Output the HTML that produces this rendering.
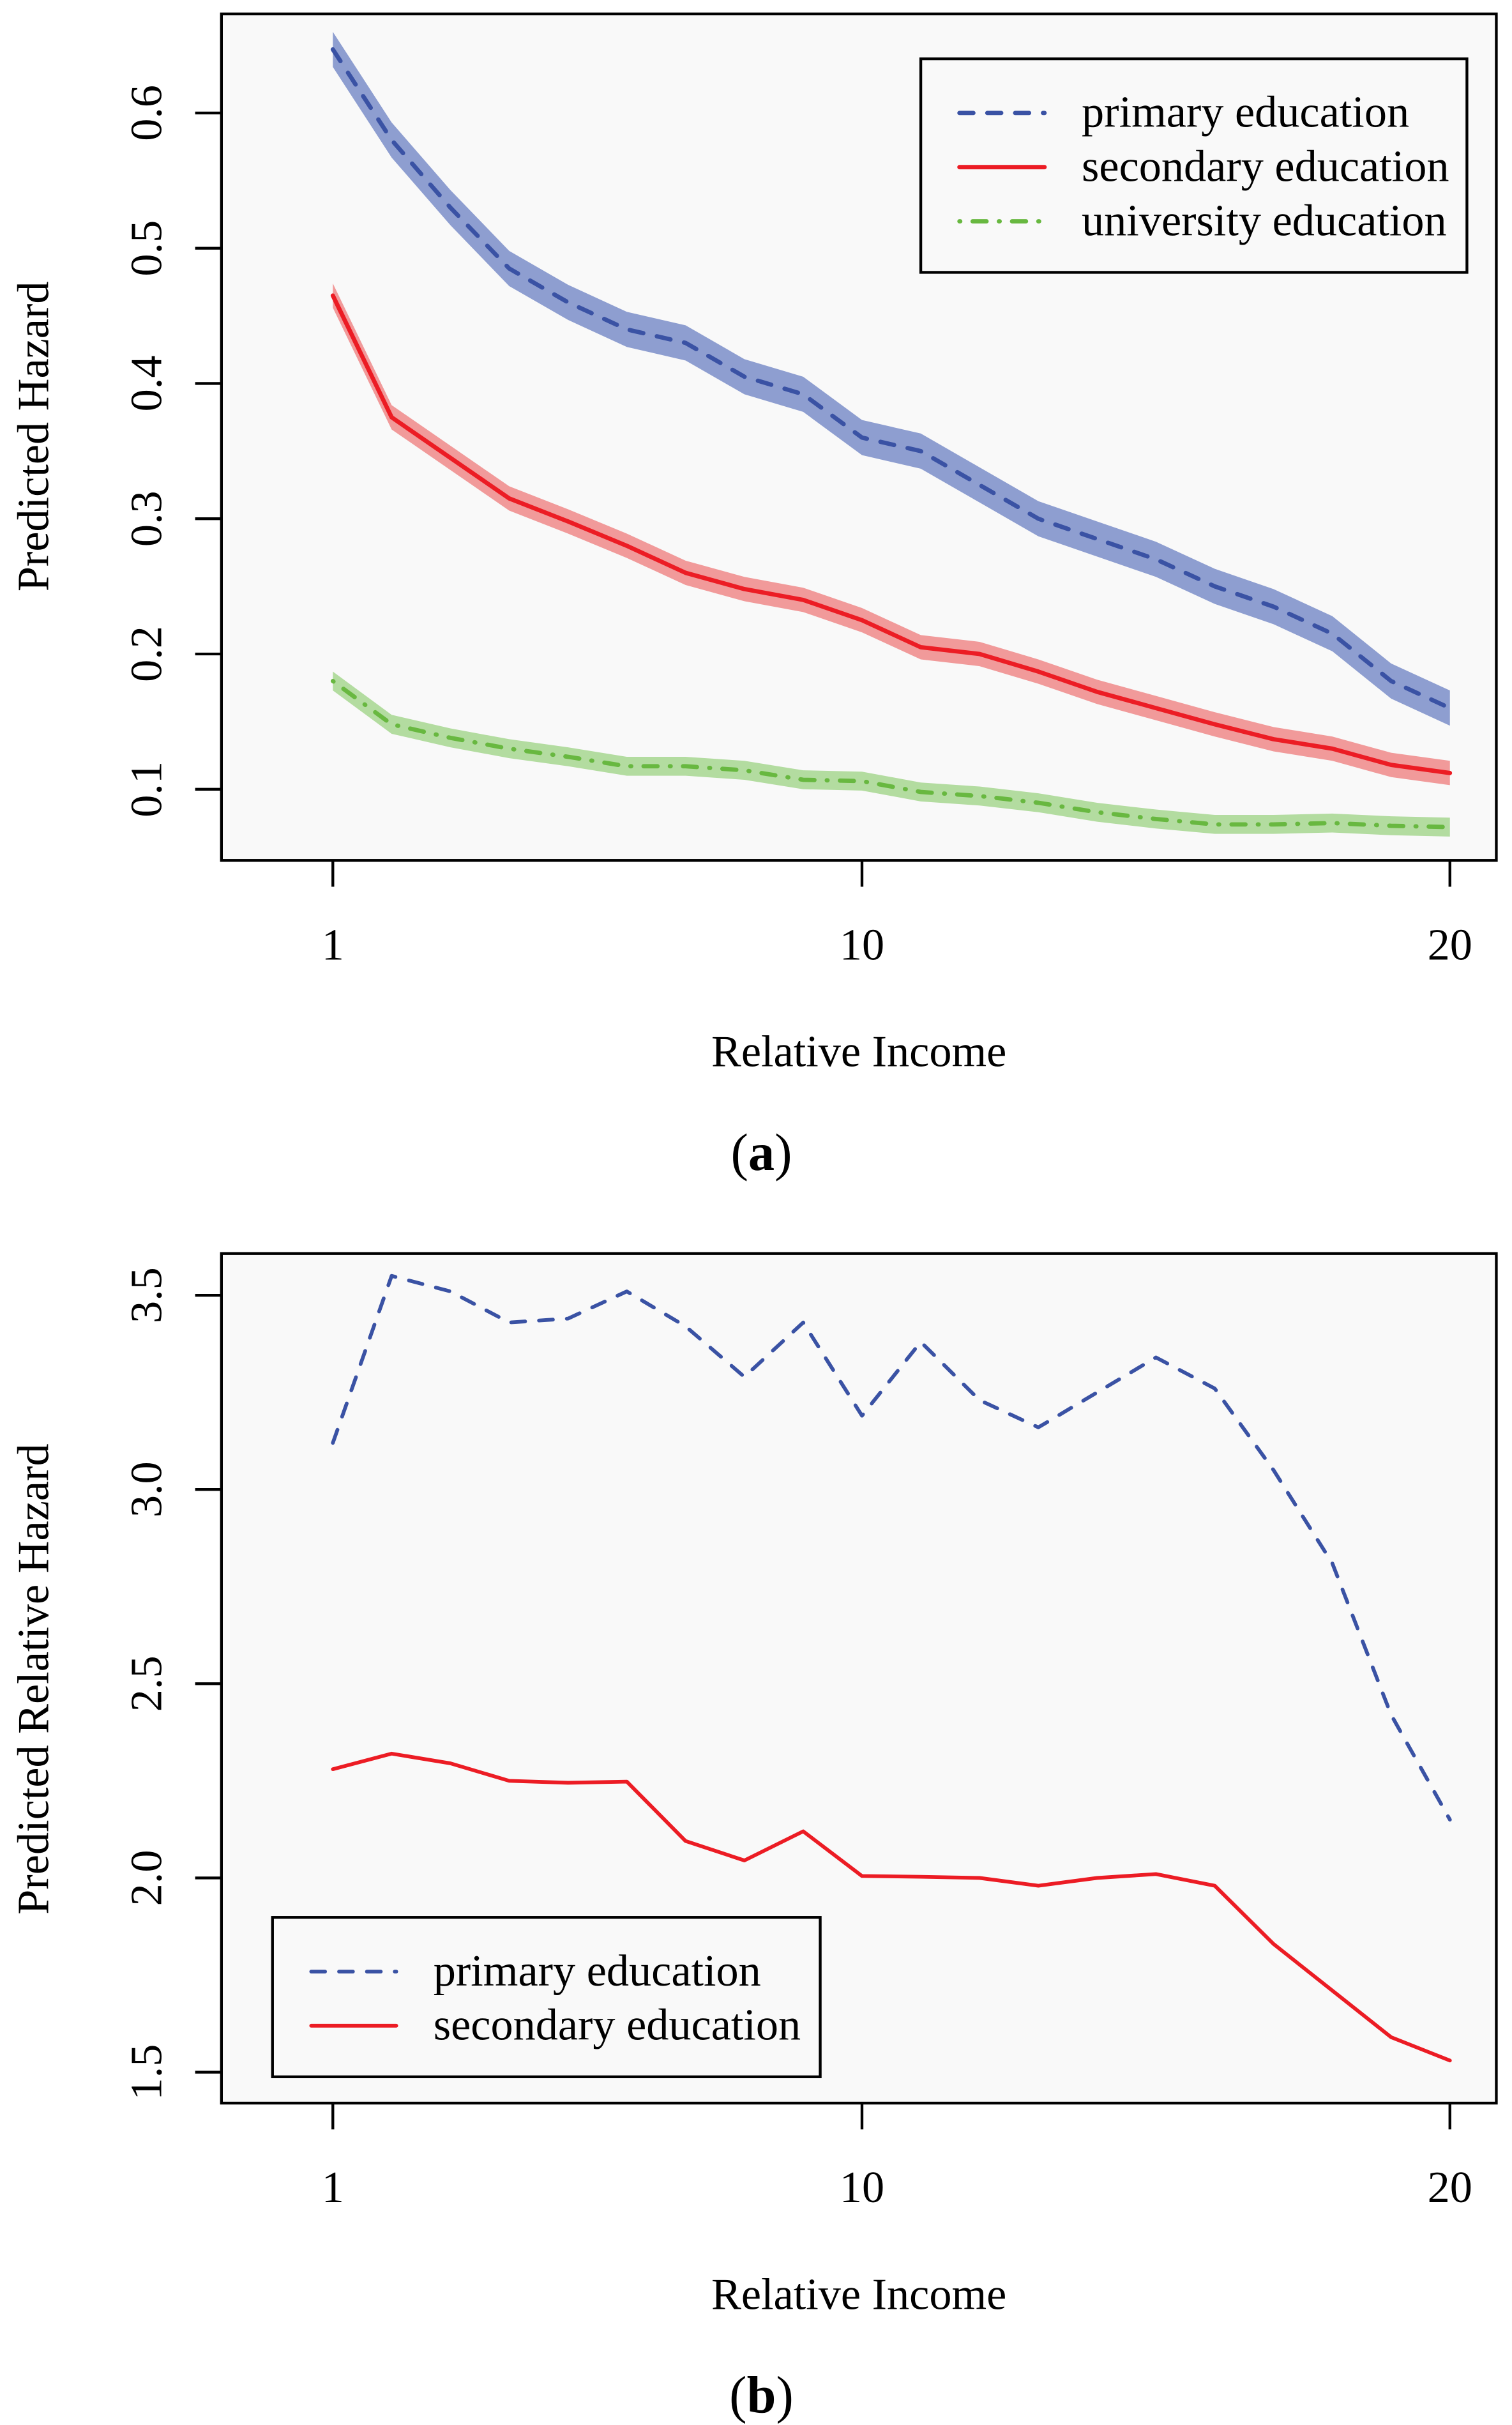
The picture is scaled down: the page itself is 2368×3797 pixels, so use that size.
<!DOCTYPE html>
<html><head><meta charset="utf-8"><style>
html,body{margin:0;padding:0;background:#fff;}
svg{display:block;font-family:"Liberation Serif","DejaVu Serif",serif;}
</style></head><body>
<svg id="fig" width="2368" height="3797" viewBox="0 0 977 1567" xmlns="http://www.w3.org/2000/svg"></svg>
<script>
const xCats=[1,2,3,4,5,6,7,8,9,10,11,12,13,14,15,16,17,18,19,20];
const xTickLabels=[1,10,20];
const aPrimary=[0.647,0.58,0.53,0.485,0.46,0.44,0.43,0.405,0.392,0.36,0.35,0.325,0.30,0.285,0.27,0.25,0.235,0.215,0.18,0.16];
const aSecondary=[0.465,0.375,0.345,0.315,0.298,0.28,0.26,0.248,0.24,0.225,0.205,0.2,0.187,0.172,0.16,0.148,0.137,0.13,0.118,0.112];
const aUniversity=[0.18,0.148,0.138,0.13,0.124,0.117,0.117,0.114,0.107,0.106,0.098,0.095,0.09,0.083,0.078,0.074,0.074,0.075,0.073,0.072];
const aBandPrimary=0.013, aBandSecondary=0.009, aBandUniversity=0.007;
const aYTicks=[0.1,0.2,0.3,0.4,0.5,0.6];
const bPrimary=[3.12,3.55,3.51,3.43,3.44,3.51,3.42,3.29,3.43,3.19,3.38,3.23,3.16,3.25,3.34,3.26,3.05,2.81,2.42,2.15];
const bSecondary=[2.28,2.32,2.295,2.25,2.245,2.248,2.095,2.045,2.12,2.005,2.003,2.0,1.98,2.0,2.01,1.98,1.83,1.71,1.59,1.53];
const bYTicks=[1.5,2.0,2.5,3.0,3.5];

const NS="http://www.w3.org/2000/svg";
const svg=document.getElementById('fig');
function mk(tag,attrs,parent){const e=document.createElementNS(NS,tag);for(const k in attrs)e.setAttribute(k,attrs[k]);(parent||svg).appendChild(e);return e;}
const BLUE="#3a52a4",BLUEB="#8e9ed0",RED="#ec1c24",REDB="#f19a9a",GREEN="#68b840",GREENB="#b3dca0";
const xs=v=>215+(v-1)*38;
const FS=29;

function panel(cfg){
  const g=mk('g',{});
  
  
  const r=mk('rect',{x:143,y:cfg.top,width:824,height:cfg.bottom-cfg.top,fill:'#f9f9f9',stroke:'#000','stroke-width':1.8},g);
  
  
  const ys=cfg.ys;
  cfg.series.forEach(s=>{
    if(s.band){
      let up=xCats.map((c,i)=>xs(c)+','+ys(s.vals[i]+s.band));
      let dn=xCats.map((c,i)=>xs(c)+','+ys(s.vals[i]-s.band)).reverse();
      const p=mk('polygon',{points:up.concat(dn).join(' '),fill:s.bandColor},g);
      
      
    }
  });
  cfg.series.forEach(s=>{
    const pl=mk('polyline',{points:xCats.map((c,i)=>xs(c)+','+ys(s.vals[i])).join(' '),fill:'none',stroke:s.color,'stroke-width':s.w,'stroke-dasharray':s.dash,'stroke-linecap':'round','stroke-linejoin':'round'},g);
    
    
  });
  xTickLabels.forEach(v=>{
    mk('line',{x1:xs(v),x2:xs(v),y1:cfg.bottom,y2:cfg.bottom+17,stroke:'#000','stroke-width':1.8},g);
    const t=mk('text',{x:xs(v),y:cfg.bottom+64,'font-size':FS,'text-anchor':'middle'},g);
    t.textContent=v;
    
    
  });
  cfg.yTicks.forEach(v=>{
    mk('line',{x1:126,x2:143,y1:ys(v),y2:ys(v),stroke:'#000','stroke-width':1.8},g);
    const t=mk('text',{x:0,y:0,'font-size':FS,'text-anchor':'middle',transform:'translate(104,'+ys(v)+') rotate(-90)'},g);
    t.textContent=v.toFixed(1);
    
    
  });
  const xt=mk('text',{x:555,y:cfg.bottom+133,'font-size':FS,'text-anchor':'middle'},g);
  xt.textContent='Relative Income';
  
  
  const yt=mk('text',{x:0,y:0,'font-size':FS,'text-anchor':'middle',transform:'translate(31,'+cfg.ymid+') rotate(-90)'},g);
  yt.textContent=cfg.ylabel;
  
  
  const cap=mk('text',{x:492,y:cfg.capY,'font-size':34,'text-anchor':'middle'},g);
  cap.innerHTML='(<tspan font-weight="bold">'+cfg.cap+'</tspan>)';
  
  
  const L=cfg.legend;
  const lg=mk('g',{},g);
  
  
  mk('rect',{x:L.x,y:L.y,width:L.w,height:L.h,fill:'#f9f9f9',stroke:'#000','stroke-width':1.8},lg);
  cfg.series.forEach((s,i)=>{
    const yy=L.first+i*35;
    mk('line',{x1:L.x+25,x2:L.x+80,y1:yy,y2:yy,stroke:s.color,'stroke-width':s.w,'stroke-dasharray':s.dash,'stroke-linecap':'round'},lg);
    const t=mk('text',{x:L.x+104,y:yy+9,'font-size':FS},lg);
    t.textContent=s.label;
    
    
  });
}

panel({name:'panel-a',top:9,bottom:556,ys:v=>73+(0.6-v)*874,yTicks:aYTicks,ylabel:'Predicted Hazard',ymid:282,cap:'a',capY:756,
  legend:{x:595,y:38,w:353,h:138,first:73},
  series:[
    {name:'primary',label:'primary education',vals:aPrimary,band:aBandPrimary,bandColor:BLUEB,color:BLUE,dash:'9,9',w:2.8},
    {name:'secondary',label:'secondary education',vals:aSecondary,band:aBandSecondary,bandColor:REDB,color:RED,dash:'none',w:2.8},
    {name:'university',label:'university education',vals:aUniversity,band:aBandUniversity,bandColor:GREENB,color:GREEN,dash:'0.5,8,9,8',w:2.8}
  ]});
panel({name:'panel-b',top:810,bottom:1359,ys:v=>837+(3.5-v)*251,yTicks:bYTicks,ylabel:'Predicted Relative Hazard',ymid:1085,cap:'b',capY:1559,
  legend:{x:176,y:1239,w:354,h:103,first:1274},
  series:[
    {name:'primary',label:'primary education',vals:bPrimary,color:BLUE,dash:'9,9',w:2.4},
    {name:'secondary',label:'secondary education',vals:bSecondary,color:RED,dash:'none',w:2.4}
  ]});
</script>
</body></html>
